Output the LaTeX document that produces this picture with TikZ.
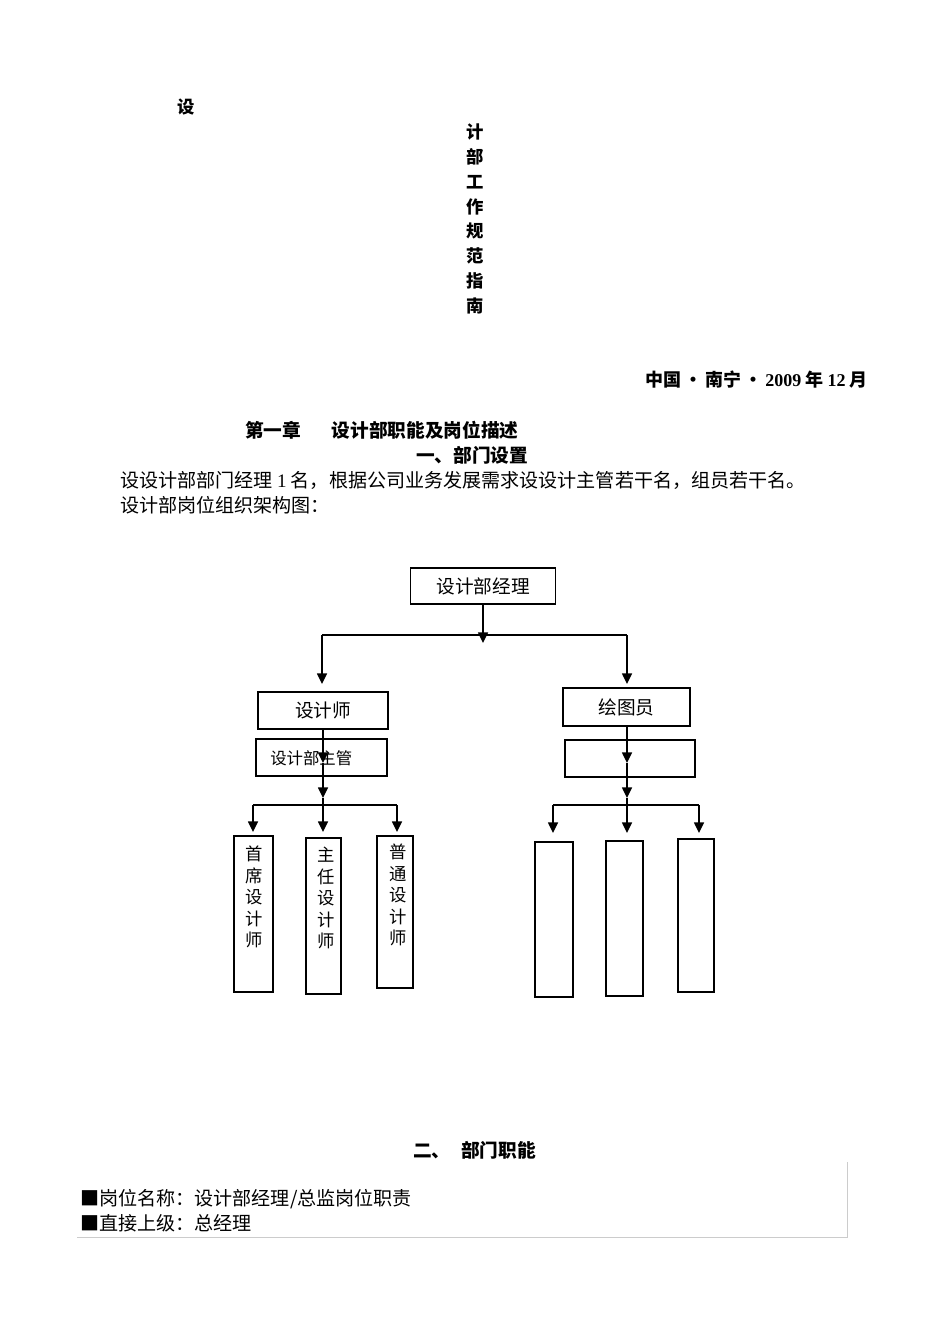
\documentclass[tikz,border=0pt]{standalone}
\usepackage{fontspec}
\setmainfont{Noto Sans CJK SC}
\newfontfamily\lat{Liberation Serif}
\usetikzlibrary{arrows.meta}
\begin{document}
\begin{tikzpicture}[x=0.75pt,y=-0.75pt,
  box/.style={draw, line width=0.8pt, inner sep=0pt, font=\fontsize{14}{16}\selectfont},
  arr/.style={line width=1.1pt, -{Triangle[length=8pt,width=7.5pt]}},
  ln/.style={line width=1.1pt},
  vtext/.style={inner sep=0pt, align=center, anchor=north, font=\fontsize{13}{16.1}\selectfont},
  head/.style={inner sep=0pt, font=\fontsize{14}{16}\selectfont\bfseries},
  body/.style={inner sep=0pt, anchor=west, font=\fontsize{14.3}{16}\selectfont},
  ttl/.style={inner sep=0pt, font=\fontsize{13}{18.6}\selectfont\bfseries}]
\useasboundingbox (0,0) rectangle (950,1344);
\fill[white] (0,0) rectangle (950,1344);

% title
\node[ttl] (t0) at (186,107) {设};
\node[ttl, align=center] (tv) at (475,219) {计\\部\\工\\作\\规\\范\\指\\南};
\node[ttl, anchor=east, font=\fontsize{13.5}{16}\selectfont\bfseries] (date) at (868,380) {中国\,•\,南宁\,•\,{\lat\bfseries 2009} 年 {\lat\bfseries 12} 月};

\node[head, anchor=west] (ch1) at (245,430) {第一章\hspace{23pt}设计部职能及岗位描述};
\node[head] (sec1) at (472,455) {一、部门设置};
\node[body] (p1) at (120,480) {设设计部部门经理 {\lat 1} 名，根据公司业务发展需求设设计主管若干名，组员若干名。};
\node[body] (p2) at (120,505) {设计部岗位组织架构图：};

% chart boxes
\node[box, minimum width=108.75pt, minimum height=27pt] (mgr) at (483,586) {设计部经理};
\node[box, minimum width=97.5pt, minimum height=27.75pt] (des) at (323,710.5) {设计师};
\node[box, minimum width=98.25pt, minimum height=27.75pt] (sup) at (321.5,757.5) {};
\node[inner sep=0pt, anchor=west, font=\fontsize{12.3}{14}\selectfont] (supt) at (270,758) {设计部主管};
\node[box, minimum width=95.25pt, minimum height=28.5pt] (dra) at (626.5,707) {绘图员};
\node[box, minimum width=97.5pt, minimum height=27.75pt] (emp) at (630,758.5) {};

\node[box, minimum width=29.25pt, minimum height=117pt] (L1) at (253.5,914) {};
\node[box, minimum width=26.25pt, minimum height=117pt] (L2) at (323.5,916) {};
\node[box, minimum width=27pt, minimum height=114pt] (L3) at (395,912) {};
\node[vtext] (L1t) at (254,846) {首\\席\\设\\计\\师};
\node[vtext] (L2t) at (326,847) {主\\任\\设\\计\\师};
\node[vtext] (L3t) at (398,844) {普\\通\\设\\计\\师};

\node[box, minimum width=28.5pt, minimum height=116.25pt] (R1) at (554,919.5) {};
\node[box, minimum width=27.75pt, minimum height=116.25pt] (R2) at (624.5,918.5) {};
\node[box, minimum width=27pt, minimum height=114.75pt] (R3) at (696,915.5) {};

% connectors top
\coordinate (j0) at (483,643);
\coordinate (hl) at (322,635);
\coordinate (hr) at (627,635);
\coordinate (al) at (322,684);
\coordinate (ar) at (627,684);
\draw[arr] (mgr.south) -- (j0);
\draw[ln] (hl) -- (hr);
\draw[arr] (hl) -- (al);
\draw[arr] (hr) -- (ar);

% left subtree
\coordinate (lm) at (323,763);
\coordinate (lb) at (323,798);
\coordinate (lh1) at (253,805);
\coordinate (lh2) at (323,805);
\coordinate (lh3) at (397,805);
\draw[arr] (des.south) -- (lm);
\draw[arr] (lm) -- (lb);
\draw[ln] (lh1) -- (lh3);
\draw[ln] (lb) -- (lh2);
\draw[arr] (lh1) -- (253,832);
\draw[arr] (lh2) -- (323,832);
\draw[arr] (lh3) -- (397,832);

% right subtree
\coordinate (rm) at (627,763);
\coordinate (rb) at (627,798);
\coordinate (rh1) at (553,805);
\coordinate (rh2) at (627,805);
\coordinate (rh3) at (699,805);
\draw[arr] (dra.south -| rm) -- (rm);
\draw[arr] (rm) -- (rb);
\draw[ln] (rh1) -- (rh3);
\draw[ln] (rb) -- (rh2);
\draw[arr] (rh1) -- (553,833);
\draw[arr] (rh2) -- (627,833);
\draw[arr] (rh3) -- (699,833);

% bottom section
\node[head, anchor=west] (sec2) at (413,1150) {二、\hspace{8pt}部门职能};
\node[body] (b1) at (80,1199) {■岗位名称：设计部经理/总监岗位职责};
\node[body] (b2) at (80,1223) {■直接上级：总经理};
\draw[gray!40, line width=0.7pt] (847,1162) -- (847,1237) -- (77,1237);
\end{tikzpicture}
\end{document}
